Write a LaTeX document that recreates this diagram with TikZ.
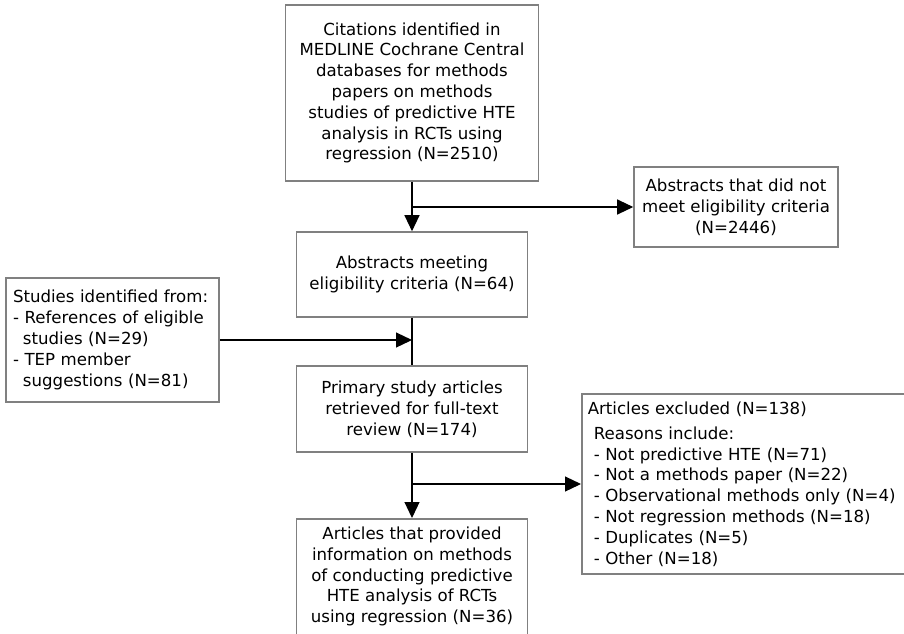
\documentclass[tikz,border=0pt]{standalone}
\usepackage{fontspec}
\setmainfont{DejaVu Sans}
\usepackage{tikz}
\usetikzlibrary{positioning, arrows.meta}

\begin{document}
\begin{tikzpicture}[
    x=0.5pt, y=-0.5pt,
    box/.style={rectangle, draw=black!50, line width=0.8pt, align=center,
                inner sep=2pt, font=\fontsize{8.3}{10.4}\selectfont},
    arr/.style={-{Triangle[length=8pt, width=7.5pt]}, line width=0.6pt},
    ln/.style={line width=0.6pt}
]
\clip (0,0) rectangle (904,633);
\node[box, minimum width=126.5pt, minimum height=88pt] (cit) at (412,93) {Citations identified in\\ MEDLINE Cochrane Central\\ databases for methods\\ papers on methods\\ studies of predictive HTE\\ analysis in RCTs using\\ regression (N=2510)};
\node[box, minimum width=102pt, minimum height=40pt] (nomeet) at (736,207) {Abstracts that did not\\ meet eligibility criteria\\ (N=2446)};
\node[box, minimum width=115.5pt, minimum height=42.5pt] (meet) at (412,274.5) {Abstracts meeting\\ eligibility criteria (N=64)};
\node[box, align=left, text width=99.5pt, inner xsep=3.5pt, minimum height=62pt] (other) at (112.5,340) {Studies identified from:\\ - References of eligible\\ \hspace*{5pt}studies (N=29)\\ - TEP member\\ \hspace*{5pt}suggestions (N=81)};
\node[box, minimum width=115.5pt, minimum height=43pt] (prim) at (412,409) {Primary study articles\\ retrieved for full-text\\ review (N=174)};
\node[box, anchor=north, minimum width=115.5pt, inner ysep=4pt, text depth=30pt] (fin) at (412,518) {Articles that provided\\ information on methods\\ of conducting predictive\\ HTE analysis of RCTs\\ using regression (N=36)};
\node[box, anchor=west, align=left, text width=160pt, inner xsep=3pt, minimum height=90pt] (excl) at (581,484) {Articles excluded (N=138)\\[2pt] \hspace*{3pt}Reasons include:\\ \hspace*{3pt}- Not predictive HTE (N=71)\\ \hspace*{3pt}- Not a methods paper (N=22)\\ \hspace*{3pt}- Observational methods only (N=4)\\ \hspace*{3pt}- Not regression methods (N=18)\\ \hspace*{3pt}- Duplicates (N=5)\\ \hspace*{3pt}- Other (N=18)};
\coordinate (j1) at (cit.south |- nomeet.west);
\coordinate (j2) at (meet.south |- other.east);
\coordinate (j3) at (prim.south |- excl.west);
\draw[arr] (cit) -- (meet);
\draw[arr] (j1) -- (nomeet);
\draw[ln] (meet) -- (prim);
\draw[arr] (other) -- (j2);
\draw[arr] (prim) -- (fin);
\draw[arr] (j3) -- (excl);
\end{tikzpicture}
\end{document}
